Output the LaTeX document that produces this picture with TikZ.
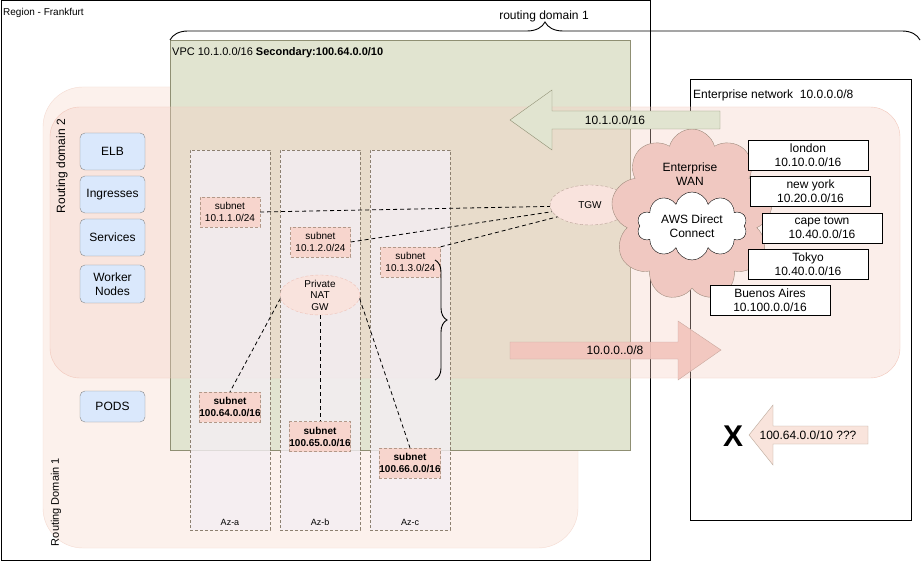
\documentclass[tikz,border=0pt]{standalone}
\usepackage{fontspec}
\setmainfont{Liberation Sans}
\usetikzlibrary{shapes.geometric,shapes.symbols,decorations.pathreplacing}

\definecolor{vpcfill}{HTML}{E1E4D0}
\definecolor{vpcline}{HTML}{8F8F73}
\definecolor{rdonefill}{HTML}{FCF1EC}
\definecolor{rdoneline}{HTML}{F5DBD2}
\definecolor{rdtwofill}{HTML}{F6CFC4}
\definecolor{rdtwoline}{HTML}{F2C8BC}
\definecolor{azfill}{HTML}{F4EEF3}
\definecolor{azline}{HTML}{8C8070}
\definecolor{subfill}{HTML}{F7D5CD}
\definecolor{subline}{HTML}{B29888}
\definecolor{boxfill}{HTML}{DAE8FC}
\definecolor{boxline}{HTML}{8A8A8A}
\definecolor{wanfill}{HTML}{F0C8C1}
\definecolor{wanline}{HTML}{A08C7E}
\definecolor{gwfill}{HTML}{F9E3DD}
\definecolor{gwline}{HTML}{B9A197}
\definecolor{natline}{HTML}{EEC2B8}
\definecolor{arrowpink}{HTML}{F2C4BC}
\definecolor{arrowpinkline}{HTML}{C9A89F}
\definecolor{arrowpale}{HTML}{F9E4DC}
\definecolor{arrowpaleline}{HTML}{B8A698}

\newcommand\bigtxt{\fontsize{12}{14}\selectfont}
\newcommand\midtxt{\fontsize{10}{12}\selectfont}
\newcommand\smalltxt{\fontsize{9}{11}\selectfont}

\tikzset{
  boundary/.style={draw=black, line width=1pt},
  txt/.style={inner sep=0pt, align=center, font=\bigtxt},
  azcol/.style={draw=azline, dash pattern=on 3pt off 2pt, fill=azfill, fill opacity=0.8, minimum width=80pt, minimum height=380pt},
  subnet/.style={draw=subline, dash pattern=on 3pt off 2pt, fill=subfill, minimum width=60pt, minimum height=30pt, inner sep=0pt, align=center, font=\midtxt},
  k8s/.style={draw=boxline, fill=boxfill, rounded corners=5pt, minimum width=65pt, minimum height=37pt, inner sep=0pt, align=center, font=\bigtxt},
  gateway/.style={ellipse, draw=gwline, dash pattern=on 3pt off 2pt, fill=gwfill, minimum width=80pt, minimum height=40pt, inner sep=0pt, font=\midtxt},
  link/.style={draw=black, dash pattern=on 4pt off 3pt, line width=0.8pt},
  city/.style={draw=black, fill=white, minimum width=120pt, minimum height=30pt, inner sep=0pt, align=center, font=\bigtxt},
  bigbrace/.style={draw=black, line width=0.9pt, decorate, decoration={brace, amplitude=#1}},
}

\begin{document}
\begin{tikzpicture}[x=1pt,y=-1pt]
  \useasboundingbox (0,0) rectangle (921,561);
  % region and enterprise network
  \draw[boundary, fill=white] (1,1) rectangle (650,560);
  \node[txt, font=\midtxt, anchor=west] (region) at (3,13) {Region - Frankfurt};
  \draw[boundary, fill=white] (690,80) rectangle (911,520);
  \node[txt, anchor=west] (entnet) at (693,95) {Enterprise network\ \ 10.0.0.0/8};

  % routing domains and vpc
  \draw[draw=rdoneline, fill=rdonefill, rounded corners=40pt] (43,87) rectangle (578,548);
  \draw[draw=vpcline, fill=vpcfill] (170,40) rectangle (630,450);
  \draw[draw=rdtwoline, fill=rdtwofill, fill opacity=0.35, rounded corners=30pt] (50,107) rectangle (900,378);
  \node[txt, font=\fontsize{11}{13}\selectfont, anchor=west] (vpc) at (172,53) {VPC 10.1.0.0/16 \textbf{Secondary:100.64.0.0/10}};
  \node[txt, rotate=90] (rdtwo) at (62,166) {Routing domain 2};
  \node[txt, font=\fontsize{11}{13}\selectfont, rotate=90] (rdone) at (56,502) {Routing Domain 1};

  % availability zones
  \foreach \x/\z in {230/a,320/b,410/c} {
    \node[azcol] (az\z) at (\x,340) {};
    \node[txt, font=\smalltxt] (az\z lbl) at (\x,522) {Az-\z};
  }

  % kubernetes
  \node[k8s] (elb) at (112.5,151.5) {ELB};
  \node[k8s] (ing) at (112.5,194.5) {Ingresses};
  \node[k8s] (svc) at (112.5,237.5) {Services};
  \node[k8s, minimum height=38pt] (wkr) at (112.5,284) {Worker\\Nodes};
  \node[k8s, minimum height=31pt] (pods) at (112.5,406.5) {PODS};

  % subnets
  \node[subnet] (sub1) at (230,212) {subnet\\10.1.1.0/24};
  \node[subnet] (sub2) at (320.5,242) {subnet\\10.1.2.0/24};
  \node[subnet] (sub3) at (410.5,262) {subnet\\10.1.3.0/24};
  \node[subnet, font=\midtxt\bfseries] (pod1) at (230,407) {subnet\\100.64.0.0/16};
  \node[subnet, font=\midtxt\bfseries] (pod2) at (320,436.5) {subnet\\100.65.0.0/16};
  \node[subnet, font=\midtxt\bfseries] (pod3) at (410,463) {subnet\\100.66.0.0/16};

  % gateways
  \node[gateway, draw=natline] (nat) at (320,295) {};
  \node[txt, font=\fontsize{10}{11.5}\selectfont] (natlbl) at (nat.center) {Private\\NAT\\GW};
  \node[gateway] (tgw) at (590,205) {TGW};

  \draw[link] (sub1.east) -- (tgw.182);
  \draw[link] (sub2.east) -- (tgw.190);
  \draw[link] (sub3.north east) -- (tgw.200);
  \draw[link] (nat.185) -- (pod1.north);
  \draw[link] (nat.south) -- (pod2.north);
  \draw[link] (nat.355) -- (pod3.north);

  \draw[bigbrace=12pt] (435,260) -- (435,380);
  \draw[bigbrace=18pt] (170,40) -- (920,40);
  \node[txt] (rdomain) at (544,16) {routing domain 1};

  % enterprise side
  \node[cloud, cloud puffs=9, cloud ignores aspect, draw=wanline, fill=wanfill, minimum width=162pt, minimum height=172pt] (wan) at (692,215) {};
  \node[txt] (wanlbl) at (690,174) {Enterprise\\WAN};
  \node[cloud, cloud puffs=10, cloud ignores aspect, draw=black, fill=white, minimum width=110pt, minimum height=68pt, inner sep=0pt, align=center, font=\bigtxt] (dx) at (692,226) {AWS Direct\\Connect};

  \node[city] (lon) at (808,155) {london\\10.10.0.0/16};
  \node[city] (nyc) at (810.5,191.5) {new york\\10.20.0.0/16};
  \node[city] (cpt) at (822,228) {cape town\\10.40.0.0/16};
  \node[city] (tyo) at (808,264) {Tokyo\\10.40.0.0/16};
  \node[city] (bue) at (770,300) {Buenos Aires\\10.100.0.0/16};

  % route arrows
  \draw[draw=vpcline, fill=vpcfill] (720,111) -- (552,111) -- (552,90) -- (510,120) -- (552,150) -- (552,129) -- (720,129) -- cycle;
  \node[txt] (vpcroute) at (615,120) {10.1.0.0/16};
  \draw[draw=arrowpinkline, fill=arrowpink, fill opacity=0.9] (510,342) -- (678,342) -- (678,321) -- (721,350) -- (678,380) -- (678,359) -- (510,359) -- cycle;
  \node[txt] (entroute) at (615,350) {10.0.0..0/8};
  \draw[draw=arrowpaleline, fill=arrowpale] (868,426) -- (773,426) -- (773,405) -- (749,435) -- (773,465) -- (773,444) -- (868,444) -- cycle;
  \node[txt] (podroute) at (808,435) {100.64.0.0/10 ???};
  \node[txt, font=\bfseries\fontsize{30}{30}\selectfont] (nope) at (733,436) {X};
\end{tikzpicture}
\end{document}
